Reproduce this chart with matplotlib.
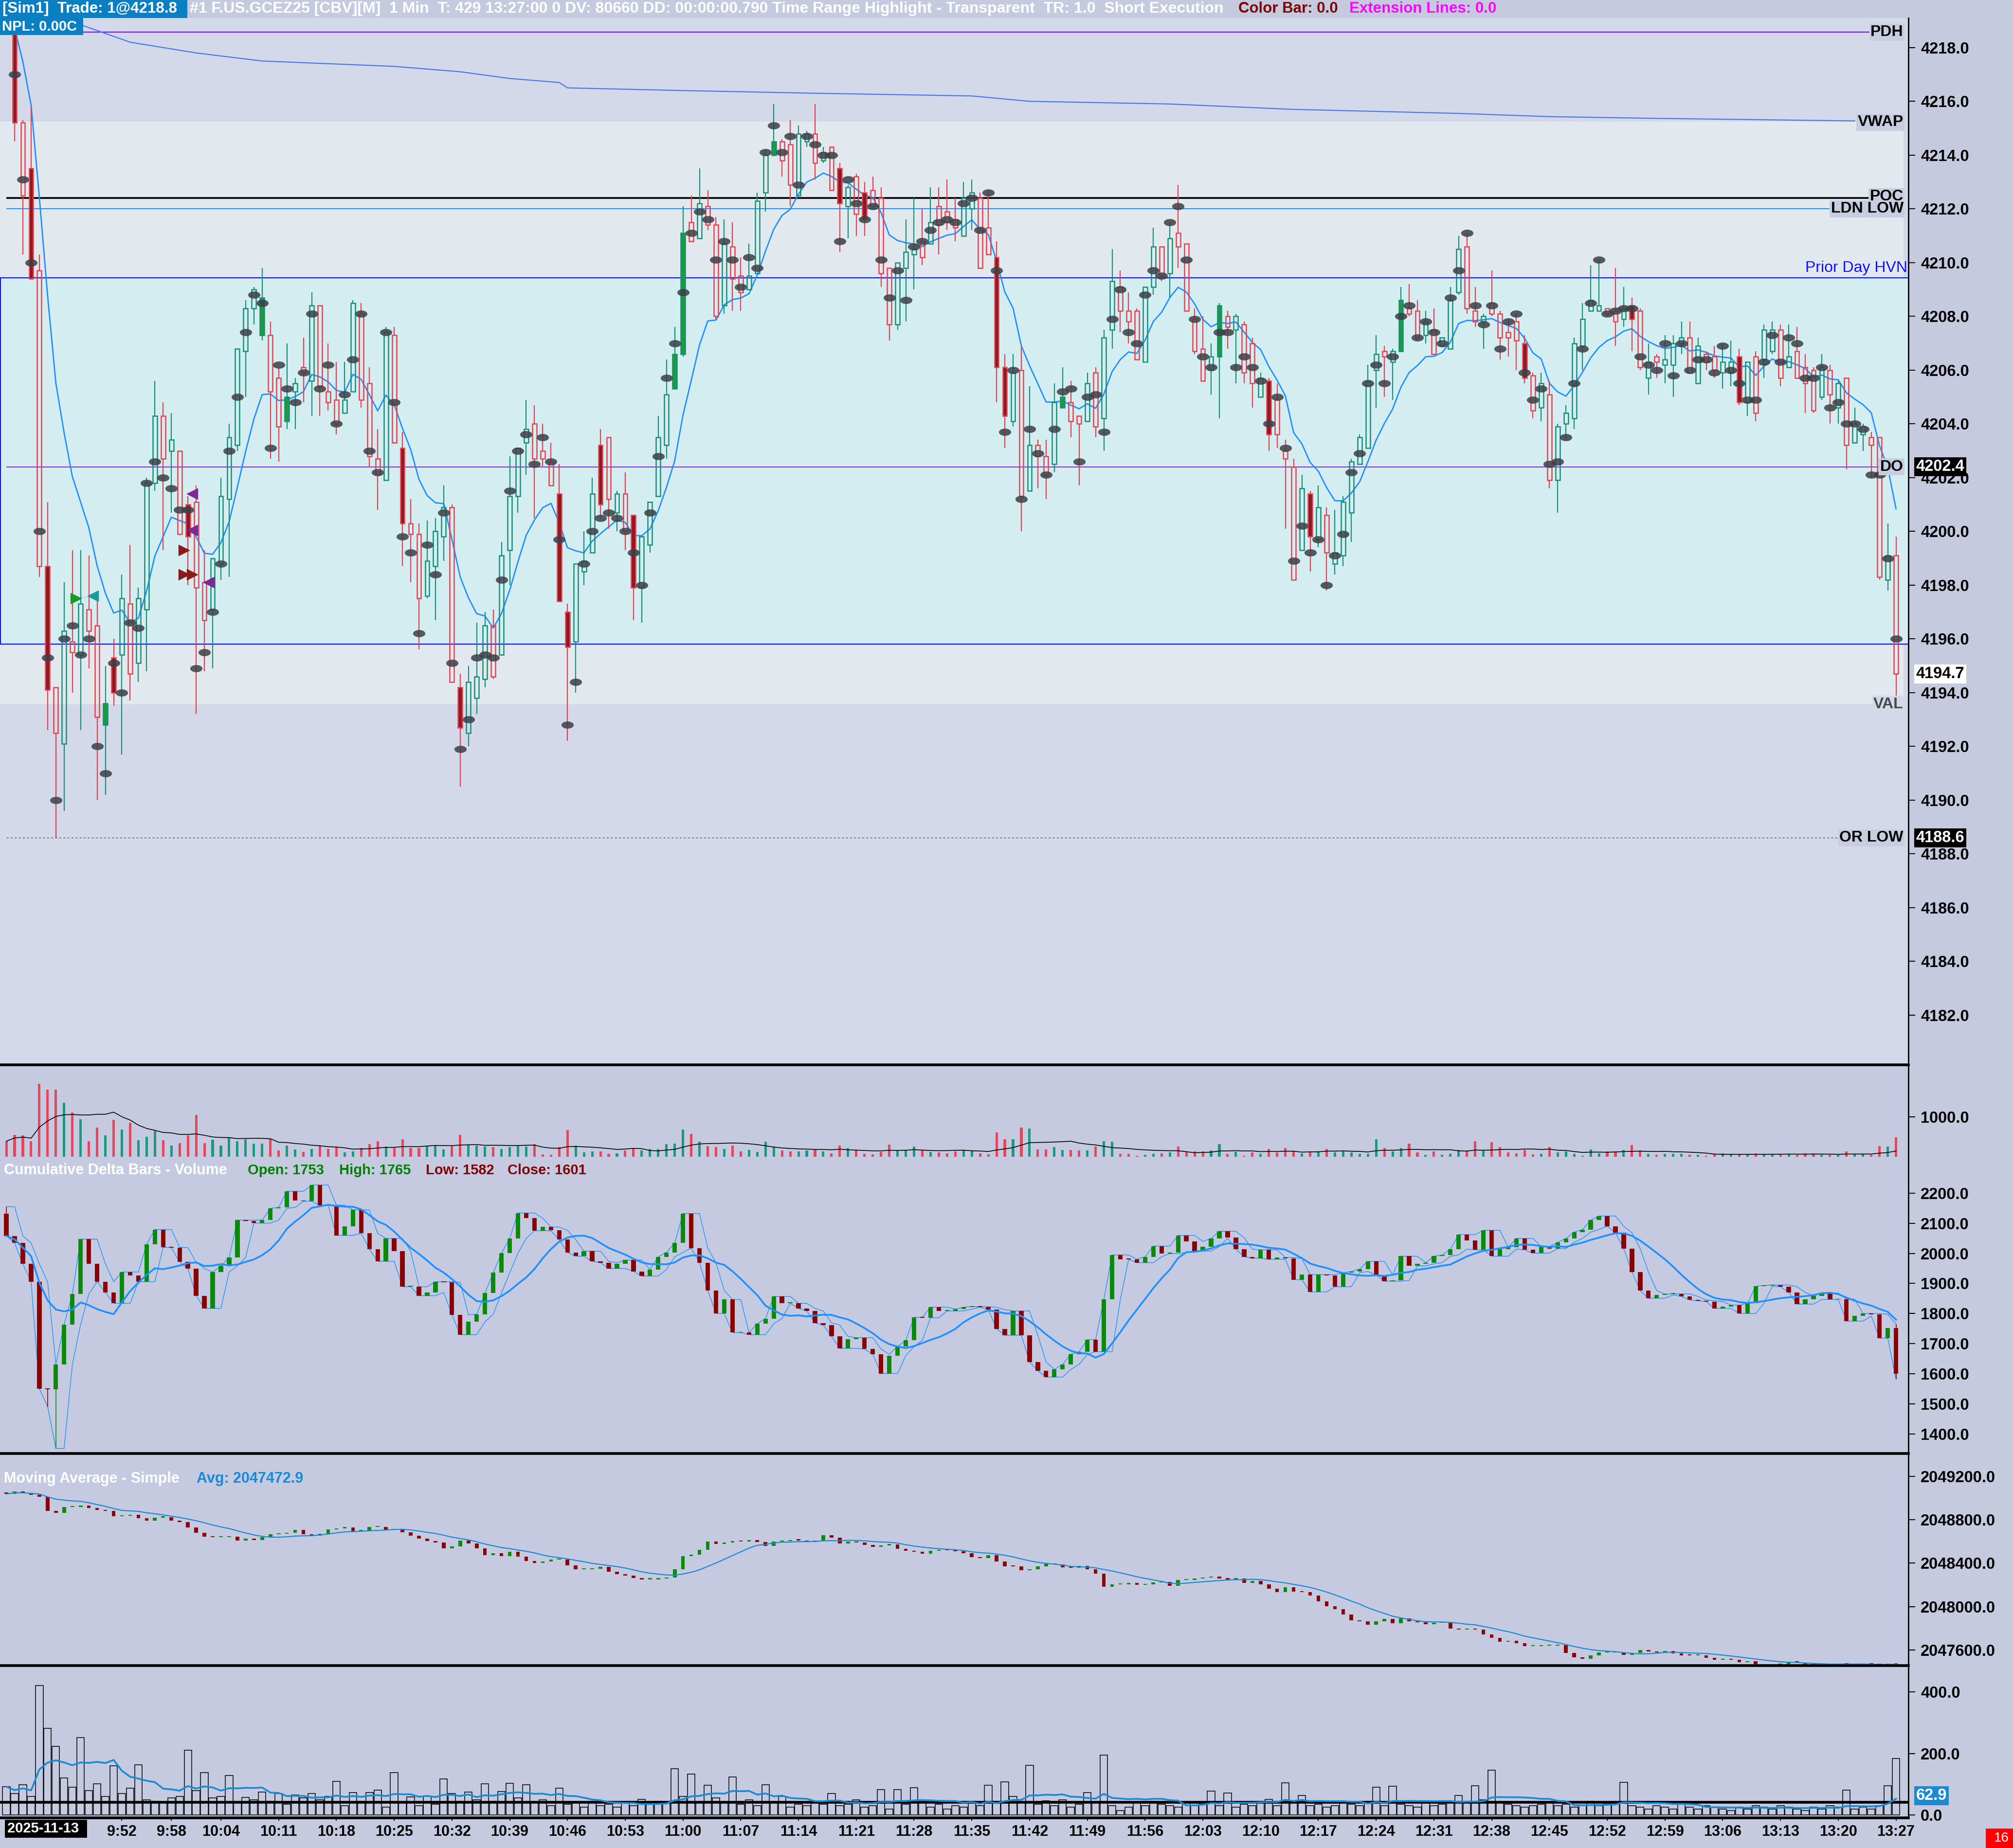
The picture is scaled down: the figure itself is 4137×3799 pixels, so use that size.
import numpy as np
import pandas as pd
import matplotlib
matplotlib.use("Agg")
import matplotlib.pyplot as plt
from matplotlib.patches import Rectangle
from matplotlib.transforms import blended_transform_factory as blend

plt.rcParams['font.family'] = ['Liberation Sans', 'DejaVu Sans']

# ---------------- data (one entry per 1-minute bar, 9:38 .. 13:27) ----------------
opens = [4221.2,
    4218.5, 4215.2, 4213.5, 4209.7, 4198.7, 4194.2, 4192.1, 4195.9, 4195.4, 4197.1,
    4196.5, 4192.8, 4195.3, 4195.4, 4197.3, 4195.1, 4197.1, 4201.8, 4204.3, 4203.0,
    4203.0, 4201.0, 4201.1, 4198.1, 4197.1, 4198.8, 4201.2, 4203.2, 4206.7, 4208.3,
    4207.3, 4207.3, 4205.7, 4204.1, 4205.2, 4206.1, 4205.6, 4208.4, 4205.2, 4204.9,
    4204.4, 4205.2, 4208.1, 4205.5, 4202.7, 4201.9, 4207.3, 4203.1, 4200.3, 4199.9,
    4197.6, 4198.7, 4199.8, 4200.9, 4194.2, 4192.5, 4193.8, 4194.5, 4196.5, 4195.4,
    4199.3, 4201.3, 4203.3, 4204.0, 4203.0, 4202.6, 4201.4, 4197.0, 4195.9, 4198.5,
    4199.2, 4203.2, 4203.5, 4200.7, 4201.4, 4200.6, 4197.9, 4199.5, 4201.3, 4203.2,
    4205.3, 4206.6, 4211.5, 4210.9, 4212.1, 4211.4, 4208.4, 4210.6, 4209.5, 4209.0,
    4209.6, 4212.6, 4214.0, 4214.5, 4214.4, 4212.5, 4214.5, 4214.8, 4213.8, 4214.3,
    4213.5, 4212.1, 4213.2, 4212.6, 4212.7, 4212.4, 4209.8, 4207.7, 4209.8, 4210.3,
    4210.8, 4210.7, 4212.1, 4211.9, 4211.6, 4211.0, 4212.0, 4212.4, 4211.3, 4210.2,
    4206.1, 4204.1, 4206.0, 4201.5, 4203.2, 4202.8, 4202.5, 4204.6, 4204.8, 4204.3,
    4204.1, 4205.9, 4204.2, 4207.5, 4209.1, 4208.2, 4208.2, 4206.3, 4209.1, 4210.6,
    4209.6, 4211.1, 4210.7, 4207.9, 4206.8, 4206.0, 4206.5, 4208.0, 4207.5, 4207.7,
    4207.0, 4205.0, 4205.6, 4204.9, 4203.0, 4202.4, 4199.3, 4201.4, 4199.7, 4200.6,
    4198.8, 4199.1, 4200.7, 4202.5, 4203.1, 4206.0, 4206.7, 4206.3, 4206.7, 4208.3,
    4208.2, 4207.3, 4207.5, 4206.9, 4206.8, 4208.9, 4210.6, 4208.2, 4207.8, 4208.5,
    4208.1, 4207.4, 4207.8, 4207.0, 4205.8, 4204.6, 4205.1, 4201.9, 4204.0, 4204.2,
    4206.9, 4208.2, 4208.2, 4208.3, 4208.2, 4207.9, 4208.4, 4208.2, 4205.7, 4206.5,
    4206.2, 4206.2, 4207.0, 4207.2, 4205.5, 4206.6, 4206.5, 4205.9, 4205.9, 4206.5,
    4204.8, 4206.5, 4206.4, 4206.7, 4207.5, 4206.1, 4206.7, 4206.1, 4206.0, 4205.0,
    4206.0, 4204.6, 4205.7, 4203.3, 4203.6, 4203.5, 4203.5, 4198.2, 4199.1]

highs = [4221.8,
    4219.3, 4215.3, 4215.8, 4210.3, 4201.1, 4194.2, 4198.1, 4199.3, 4199.3, 4199.1,
    4197.5, 4195.0, 4196.0, 4198.4, 4199.5, 4197.9, 4202.0, 4205.6, 4204.8, 4204.4,
    4203.0, 4201.3, 4201.7, 4199.3, 4199.0, 4202.0, 4204.0, 4206.8, 4208.6, 4209.1,
    4209.8, 4207.8, 4206.1, 4207.0, 4205.7, 4207.2, 4208.9, 4208.4, 4207.0, 4206.3,
    4206.3, 4208.6, 4208.5, 4206.1, 4203.8, 4207.6, 4207.6, 4203.7, 4201.2, 4200.3,
    4200.4, 4200.5, 4201.7, 4201.0, 4194.7, 4195.0, 4196.6, 4197.0, 4197.1, 4199.6,
    4202.8, 4203.1, 4204.9, 4204.7, 4204.0, 4203.3, 4202.5, 4197.3, 4198.8, 4200.0,
    4202.0, 4203.8, 4203.5, 4201.5, 4202.2, 4200.6, 4199.8, 4201.1, 4204.3, 4206.4,
    4207.6, 4212.1, 4212.5, 4213.5, 4212.7, 4211.7, 4211.6, 4211.5, 4210.2, 4210.7,
    4212.6, 4214.2, 4215.9, 4214.6, 4215.3, 4215.1, 4214.9, 4215.9, 4214.3, 4214.3,
    4213.7, 4212.9, 4213.3, 4213.0, 4213.2, 4212.8, 4209.8, 4210.0, 4211.6, 4212.4,
    4212.0, 4212.8, 4212.8, 4213.1, 4212.4, 4213.0, 4213.1, 4212.6, 4212.7, 4210.8,
    4206.6, 4206.6, 4206.9, 4205.4, 4203.4, 4203.4, 4205.5, 4206.1, 4205.6, 4204.3,
    4205.9, 4206.1, 4207.5, 4210.5, 4209.7, 4208.9, 4208.3, 4209.1, 4211.3, 4210.6,
    4211.5, 4212.9, 4210.7, 4208.3, 4208.0, 4207.0, 4208.5, 4208.2, 4208.1, 4207.8,
    4207.2, 4205.9, 4205.7, 4205.5, 4203.4, 4202.7, 4202.1, 4201.5, 4201.7, 4200.9,
    4200.8, 4201.3, 4202.7, 4203.6, 4206.2, 4207.3, 4206.9, 4206.8, 4209.1, 4209.2,
    4208.6, 4208.2, 4208.3, 4207.2, 4209.1, 4211.0, 4211.1, 4209.1, 4208.1, 4209.7,
    4208.2, 4207.9, 4208.1, 4207.3, 4205.9, 4205.9, 4205.6, 4204.0, 4204.7, 4207.2,
    4208.5, 4209.9, 4210.1, 4208.3, 4209.8, 4209.1, 4208.7, 4208.3, 4207.0, 4206.6,
    4207.3, 4207.3, 4207.8, 4207.8, 4207.2, 4206.7, 4206.9, 4207.0, 4207.1, 4206.8,
    4206.3, 4206.7, 4207.7, 4207.8, 4207.7, 4207.7, 4207.6, 4206.6, 4206.1, 4206.6,
    4206.2, 4205.6, 4205.7, 4204.6, 4204.0, 4203.7, 4203.5, 4200.3, 4199.8]

lows = [4219.4,
    4214.5, 4210.3, 4209.4, 4198.3, 4192.6, 4188.6, 4189.6, 4194.0, 4192.6, 4194.9,
    4190.0, 4190.2, 4193.5, 4191.7, 4193.7, 4194.4, 4194.8, 4201.5, 4199.3, 4200.7,
    4199.9, 4198.0, 4193.2, 4194.8, 4194.9, 4198.2, 4198.3, 4203.0, 4205.0, 4207.7,
    4207.1, 4202.7, 4202.6, 4203.8, 4203.8, 4204.8, 4204.3, 4204.3, 4204.5, 4203.6,
    4204.4, 4205.2, 4204.6, 4202.4, 4200.8, 4201.9, 4203.3, 4198.7, 4198.1, 4195.6,
    4197.5, 4196.7, 4198.9, 4194.4, 4190.5, 4192.0, 4193.2, 4194.2, 4194.5, 4195.4,
    4198.0, 4200.7, 4202.1, 4200.5, 4202.4, 4201.7, 4197.4, 4192.2, 4194.0, 4198.0,
    4199.2, 4200.5, 4200.1, 4200.0, 4199.3, 4196.7, 4196.6, 4199.2, 4201.3, 4202.7,
    4205.3, 4206.5, 4210.8, 4210.9, 4211.2, 4207.9, 4208.1, 4208.2, 4208.2, 4209.0,
    4209.6, 4211.9, 4214.0, 4213.2, 4212.1, 4212.5, 4214.3, 4213.1, 4213.7, 4212.7,
    4210.4, 4210.9, 4211.0, 4211.0, 4212.0, 4209.1, 4207.1, 4207.5, 4207.8, 4209.0,
    4209.9, 4210.7, 4210.3, 4211.2, 4210.8, 4211.0, 4211.2, 4209.8, 4210.3, 4204.8,
    4203.1, 4203.9, 4200.0, 4201.5, 4201.6, 4201.2, 4202.2, 4204.6, 4203.5, 4201.7,
    4204.1, 4203.5, 4203.0, 4206.8, 4207.4, 4207.0, 4206.4, 4206.3, 4208.8, 4209.3,
    4208.7, 4209.8, 4208.2, 4206.6, 4205.6, 4205.1, 4204.2, 4206.8, 4205.5, 4205.5,
    4204.6, 4205.0, 4203.0, 4203.1, 4200.1, 4198.2, 4199.3, 4198.5, 4199.4, 4197.8,
    4198.4, 4198.7, 4199.6, 4202.5, 4203.1, 4204.6, 4205.0, 4204.9, 4206.7, 4208.0,
    4207.1, 4207.0, 4206.6, 4206.9, 4206.8, 4208.8, 4208.1, 4207.6, 4206.8, 4208.0,
    4206.4, 4206.5, 4206.0, 4205.5, 4204.2, 4204.1, 4201.6, 4200.7, 4203.4, 4203.8,
    4206.0, 4208.2, 4208.2, 4208.0, 4206.9, 4207.6, 4206.7, 4206.0, 4205.1, 4205.7,
    4205.5, 4205.0, 4206.6, 4205.9, 4205.5, 4206.0, 4205.7, 4205.3, 4205.4, 4204.7,
    4204.3, 4204.1, 4205.7, 4206.6, 4205.4, 4206.1, 4205.7, 4204.4, 4204.4, 4204.9,
    4204.0, 4204.0, 4202.3, 4203.3, 4203.0, 4202.0, 4198.2, 4197.8, 4193.7]

closes = [4219.6,
    4215.2, 4212.5, 4209.4, 4198.7, 4194.1, 4192.5, 4196.3, 4195.5, 4197.3, 4196.3,
    4193.1, 4193.6, 4194.0, 4197.5, 4194.7, 4197.5, 4201.8, 4204.3, 4202.7, 4203.4,
    4199.9, 4199.8, 4197.9, 4196.7, 4199.0, 4201.3, 4203.5, 4206.8, 4208.3, 4209.0,
    4208.7, 4205.2, 4203.9, 4205.0, 4205.5, 4205.9, 4208.4, 4205.4, 4204.8, 4204.0,
    4204.9, 4208.5, 4204.9, 4202.8, 4202.1, 4207.4, 4203.3, 4200.3, 4199.9, 4197.5,
    4198.9, 4200.0, 4200.9, 4194.4, 4192.7, 4194.4, 4194.6, 4196.5, 4194.6, 4199.1,
    4201.3, 4203.1, 4203.8, 4202.7, 4202.7, 4201.7, 4197.4, 4195.7, 4198.8, 4198.9,
    4201.4, 4201.0, 4201.2, 4201.4, 4200.0, 4197.9, 4199.8, 4201.1, 4203.5, 4205.1,
    4206.6, 4211.1, 4210.8, 4212.2, 4211.4, 4208.0, 4210.7, 4209.4, 4208.9, 4209.5,
    4212.3, 4214.0, 4214.5, 4213.8, 4212.9, 4214.8, 4214.8, 4213.7, 4214.1, 4212.7,
    4212.2, 4212.8, 4211.8, 4211.6, 4212.1, 4209.6, 4207.7, 4210.0, 4210.4, 4210.5,
    4210.2, 4211.5, 4211.4, 4211.5, 4211.3, 4212.4, 4212.6, 4209.8, 4210.3, 4206.1,
    4204.3, 4205.9, 4201.3, 4203.2, 4202.8, 4202.1, 4204.8, 4205.0, 4204.1, 4204.0,
    4205.5, 4203.9, 4207.2, 4209.3, 4208.2, 4207.8, 4206.4, 4209.1, 4210.6, 4209.5,
    4210.9, 4210.6, 4208.2, 4206.7, 4205.6, 4206.5, 4208.4, 4207.6, 4208.0, 4205.9,
    4205.5, 4205.7, 4203.6, 4203.6, 4202.7, 4198.2, 4201.6, 4199.8, 4200.9, 4199.2,
    4199.2, 4201.1, 4202.6, 4203.5, 4205.6, 4206.6, 4206.5, 4206.7, 4208.6, 4208.1,
    4207.2, 4207.8, 4206.6, 4207.2, 4208.6, 4210.5, 4208.3, 4207.8, 4208.0, 4208.1,
    4207.2, 4207.2, 4207.1, 4205.7, 4204.5, 4205.5, 4201.9, 4203.9, 4204.4, 4207.0,
    4207.9, 4208.6, 4208.4, 4208.1, 4207.8, 4208.3, 4207.9, 4206.1, 4206.3, 4206.3,
    4206.4, 4207.0, 4207.2, 4205.9, 4206.9, 4206.3, 4206.0, 4206.3, 4206.3, 4204.8,
    4206.3, 4204.4, 4207.5, 4207.5, 4205.7, 4206.5, 4205.7, 4205.5, 4204.5, 4206.1,
    4205.1, 4205.5, 4203.2, 4204.0, 4203.9, 4203.2, 4198.3, 4199.1, 4194.7]

# price of the heaviest-volume level in each bar (grey dots)
poc = [4220.5,
    4217.0, 4213.1, 4210.0, 4200.0, 4195.3, 4190.0, 4196.0, 4196.5, 4195.4, 4196.0,
    4192.0, 4191.0, 4195.1, 4194.0, 4196.6, 4196.4, 4201.8, 4202.6, 4202.0, 4201.6,
    4200.8, 4200.8, 4194.9, 4195.5, 4197.0, 4198.8, 4203.0, 4205.0, 4207.4, 4208.8,
    4208.5, 4203.1, 4206.2, 4205.3, 4204.8, 4205.9, 4208.1, 4205.3, 4206.2, 4204.0,
    4205.1, 4206.4, 4208.1, 4203.0, 4202.2, 4207.4, 4204.8, 4199.8, 4199.2, 4196.2,
    4199.5, 4198.4, 4200.7, 4195.1, 4191.9, 4193.0, 4195.3, 4195.4, 4195.3, 4198.2,
    4201.5, 4203.0, 4203.6, 4202.5, 4203.5, 4202.6, 4199.7, 4192.8, 4194.4, 4198.8,
    4200.0, 4200.5, 4200.7, 4200.5, 4200.0, 4199.2, 4198.0, 4200.7, 4202.8, 4205.7,
    4207.0, 4208.9, 4211.1, 4211.9, 4211.6, 4210.1, 4210.8, 4210.1, 4209.1, 4210.2,
    4209.8, 4214.1, 4215.1, 4214.1, 4214.7, 4212.9, 4214.7, 4214.4, 4214.0, 4214.0,
    4210.8, 4213.1, 4212.2, 4211.6, 4212.1, 4210.1, 4208.7, 4209.7, 4208.6, 4210.6,
    4210.8, 4211.2, 4211.5, 4211.6, 4211.5, 4212.2, 4212.4, 4211.2, 4212.6, 4209.7,
    4203.7, 4206.0, 4201.2, 4203.8, 4202.9, 4202.1, 4203.8, 4205.2, 4205.3, 4202.6,
    4205.0, 4205.1, 4203.7, 4207.9, 4209.0, 4207.4, 4207.0, 4208.8, 4209.7, 4209.5,
    4211.5, 4212.1, 4210.1, 4207.9, 4206.5, 4206.1, 4207.4, 4207.4, 4206.1, 4206.5,
    4206.1, 4205.6, 4204.0, 4205.0, 4203.1, 4198.9, 4200.2, 4199.2, 4199.7, 4198.0,
    4199.1, 4199.9, 4202.2, 4202.9, 4205.5, 4206.2, 4205.5, 4206.5, 4208.0, 4208.4,
    4207.2, 4207.8, 4207.4, 4207.0, 4208.7, 4209.7, 4211.1, 4208.4, 4207.7, 4208.4,
    4206.8, 4207.8, 4208.1, 4205.9, 4204.9, 4205.3, 4202.5, 4202.6, 4203.5, 4205.5,
    4206.8, 4208.5, 4210.1, 4208.1, 4208.2, 4208.3, 4208.3, 4206.5, 4206.2, 4206.0,
    4207.0, 4205.8, 4207.0, 4206.0, 4206.4, 4206.4, 4205.9, 4206.9, 4206.0, 4205.5,
    4204.9, 4204.9, 4206.3, 4207.3, 4206.3, 4207.2, 4207.0, 4205.7, 4205.7, 4206.1,
    4204.6, 4204.8, 4204.0, 4204.0, 4203.8, 4202.1, 4202.1, 4199.0, 4196.0]

# bars drawn with a solid body
filled_down = [1, 3, 5, 13, 22, 48, 55, 67, 68, 72, 76, 101, 104, 120, 121, 153, 158, 184, 197, 210]
filled_up = [12, 31, 34, 81, 82, 93, 128, 147, 169]

# VWAP (bar, value)
vwap_bar = [0, 5, 9, 15, 23, 31, 39, 47, 55, 61, 67, 68, 82, 98, 117, 124, 141, 156, 176, 187, 199, 224]
vwap_val = [4219.8, 4219.3, 4218.85, 4218.2, 4217.8, 4217.5, 4217.4, 4217.3, 4217.1, 4216.85, 4216.7,
            4216.5, 4216.4, 4216.3, 4216.2, 4216.0, 4215.9, 4215.7, 4215.55, 4215.43, 4215.37, 4215.27]

# reference levels
pdh, vwap_last, poc_level, ldn_low, hvn = 4218.57, 4215.22, 4212.4, 4212.0, 4209.43
do_level, va_low_line, val_level, or_low = 4202.4, 4195.8, 4193.57, 4188.6
band_top = 4215.25
last_price = 4194.7

# trade markers (bar, price)
buy_entry = [(8.4, 4197.5)]
buy_exit = [(10.5, 4197.6)]
short_entry = [(21.5, 4199.3), (21.5, 4198.4), (22.5, 4198.4)]
short_exit = [(22.5, 4201.4), (22.5, 4200.05), (24.5, 4198.1)]

volume = [392, 551, 538, 392, 1823, 1677, 1677, 1342, 1108, 937,
          392, 728, 538, 918, 684, 855, 411, 506, 646, 411,
          285, 348, 538, 1044, 348, 430, 285, 475, 392, 443,
          329, 329, 456, 158, 285, 190, 127, 203, 266, 203,
          253, 114, 139, 222, 317, 392, 253, 222, 443, 222,
          222, 285, 285, 190, 285, 551, 304, 285, 253, 241,
          203, 241, 285, 253, 317, 63, 51, 241, 665, 285,
          114, 139, 139, 76, 95, 158, 222, 158, 203, 203,
          317, 329, 684, 570, 380, 266, 241, 203, 285, 139,
          177, 127, 380, 253, 158, 139, 139, 158, 190, 139,
          95, 285, 222, 158, 76, 63, 127, 304, 158, 177,
          253, 158, 127, 114, 95, 139, 158, 158, 95, 63,
          614, 443, 443, 728, 709, 190, 190, 241, 177, 177,
          158, 158, 253, 392, 380, 76, 76, 32, 51, 76,
          95, 114, 253, 139, 139, 139, 158, 317, 76, 127,
          32, 114, 76, 203, 114, 222, 139, 95, 139, 139,
          203, 114, 139, 114, 76, 76, 443, 222, 139, 222,
          329, 114, 51, 139, 51, 76, 177, 158, 392, 177,
          367, 241, 114, 95, 177, 63, 76, 241, 114, 139,
          76, 32, 190, 95, 139, 139, 177, 298, 158, 76,
          51, 76, 76, 76, 51, 51, 32, 63, 95, 76,
          51, 63, 95, 76, 76, 51, 63, 51, 95, 95,
          51, 51, 51, 139, 76, 63, 51, 266, 253, 487]

delta_open0 = 2131.6
delta_close = [2058.0, 2034.4, 1965.0, 1905.9, 1550.9, 1548.0, 1631.2, 1763.9, 1865.3, 2047.1,
               1965.1, 1905.9, 1870.4, 1834.0, 1938.0, 1927.0, 1905.9, 2030.2, 2079.2, 2020.0,
               2019.0, 1971.0, 1949.8, 1859.4, 1817.2, 1938.0, 1958.3, 1986.2, 2110.4, 2107.0,
               2100.3, 2110.4, 2149.4, 2152.7, 2206.0, 2174.7, 2173.0, 2227.1, 2159.5, 2160.0,
               2059.7, 2090.2, 2144.3, 2066.5, 2013.0, 1973.5, 2049.6, 2007.3, 1889.0, 1889.0,
               1859.4, 1870.4, 1905.9, 1904.0, 1796.0, 1730.0, 1772.3, 1797.7, 1867.8, 1935.5,
               2000.6, 2049.6, 2134.1, 2117.0, 2075.0, 2087.6, 2076.6, 2045.4, 2003.1, 1990.4,
               2007.3, 1973.5, 1969.0, 1949.8, 1965.1, 1977.7, 1939.7, 1924.5, 1946.5, 1988.7,
               2003.1, 2034.4, 2132.4, 2017.5, 1969.0, 1876.3, 1800.2, 1846.7, 1736.8, 1737.0,
               1730.0, 1766.4, 1783.4, 1856.9, 1834.0, 1834.0, 1817.2, 1808.7, 1769.0, 1762.0,
               1724.1, 1684.4, 1715.7, 1720.0, 1682.0, 1665.0, 1601.0, 1660.7, 1690.3, 1711.5,
               1787.6, 1786.0, 1821.2, 1808.7, 1808.7, 1814.6, 1821.2, 1823.0, 1821.0, 1813.0,
               1749.5, 1728.0, 1808.7, 1728.0, 1639.6, 1610.0, 1589.0, 1614.3, 1631.2, 1665.0,
               1673.4, 1713.2, 1673.4, 1846.7, 1994.7, 1980.3, 1980.0, 1969.0, 1988.7, 2024.2,
               1998.9, 2003.0, 2059.7, 2039.4, 2007.3, 2022.5, 2049.6, 2073.3, 2052.1, 2014.1,
               1988.7, 1983.7, 2011.6, 1980.3, 1986.2, 1983.0, 1912.6, 1929.5, 1872.0, 1929.5,
               1927.0, 1889.0, 1935.5, 1939.7, 1948.0, 1973.5, 1928.7, 1907.6, 1910.0, 1990.4,
               1958.3, 1965.1, 1969.3, 1990.4, 1994.6, 2014.1, 2062.3, 2042.8, 2011.6, 2076.6,
               1990.4, 2014.1, 2020.0, 2049.6, 2011.6, 2000.6, 2022.5, 2015.8, 2037.0, 2049.6,
               2070.7, 2079.2, 2110.4, 2124.0, 2090.2, 2068.2, 2015.8, 1938.0, 1876.3, 1851.0,
               1861.9, 1865.0, 1865.3, 1856.9, 1845.0, 1842.5, 1840.0, 1817.2, 1823.0, 1828.1,
               1800.2, 1834.0, 1890.7, 1893.0, 1895.0, 1889.0, 1870.4, 1831.5, 1846.7, 1859.4,
               1867.8, 1846.7, 1848.0, 1774.9, 1791.8, 1800.2, 1797.7, 1718.3, 1752.0, 1601.0]
delta_wick_low = {5: 1491, 6: 1352, 229: 1582}
delta_wick_high = {0: 2155, 229: 1765}

ma_close = [2049036, 2049060, 2049045, 2049030, 2049010, 2048880, 2048864, 2048916, 2048916, 2048930,
            2048910, 2048890, 2048882, 2048830, 2048835, 2048843, 2048815, 2048790, 2048820, 2048822,
            2048793, 2048778, 2048730, 2048680, 2048643, 2048640, 2048640, 2048643, 2048608, 2048626,
            2048611, 2048640, 2048667, 2048670, 2048678, 2048708, 2048667, 2048655, 2048670, 2048712,
            2048722, 2048730, 2048695, 2048695, 2048732, 2048732, 2048708, 2048707, 2048683, 2048655,
            2048625, 2048603, 2048590, 2048536, 2048553, 2048610, 2048580, 2048536, 2048476, 2048490,
            2048464, 2048506, 2048461, 2048420, 2048402, 2048416, 2048432, 2048432, 2048380, 2048345,
            2048345, 2048350, 2048365, 2048320, 2048300, 2048285, 2048264, 2048252, 2048252, 2048260,
            2048267, 2048342, 2048465, 2048479, 2048524, 2048599, 2048576, 2048588, 2048603, 2048598,
            2048613, 2048595, 2048558, 2048598, 2048603, 2048612, 2048610, 2048598, 2048610, 2048658,
            2048633, 2048580, 2048598, 2048590, 2048566, 2048551, 2048565, 2048573, 2048533, 2048513,
            2048503, 2048488, 2048513, 2048524, 2048518, 2048509, 2048491, 2048458, 2048446, 2048476,
            2048417, 2048372, 2048369, 2048334, 2048345, 2048372, 2048394, 2048387, 2048360, 2048357,
            2048375, 2048342, 2048304, 2048185, 2048204, 2048204, 2048220, 2048200, 2048207, 2048225,
            2048226, 2048193, 2048245, 2048245, 2048260, 2048267, 2048275, 2048260, 2048252, 2048260,
            2048220, 2048238, 2048207, 2048166, 2048133, 2048177, 2048136, 2048133, 2048103, 2048050,
            2048002, 2047976, 2047928, 2047872, 2047864, 2047835, 2047864, 2047886, 2047846, 2047894,
            2047864, 2047857, 2047837, 2047850, 2047857, 2047797, 2047790, 2047793, 2047790, 2047746,
            2047712, 2047677, 2047688, 2047662, 2047637, 2047637, 2047640, 2047640, 2047648, 2047574,
            2047533, 2047521, 2047554, 2047580, 2047584, 2047580, 2047558, 2047574, 2047600, 2047588,
            2047580, 2047592, 2047570, 2047554, 2047550, 2047550, 2047528, 2047510, 2047520, 2047510,
            2047490, 2047500, 2047473, 2047460, 2047472, 2047465, 2047490, 2047487, 2047468, 2047466,
            2047469, 2047468, 2047470, 2047469, 2047468, 2047470, 2047469, 2047468, 2047469, 2047470]

lower_vals = [92, 70, 98, 60, 420, 281, 223, 120, 90, 251,
              80, 102, 60, 160, 70, 87, 163, 50, 45, 40,
              56, 60, 210, 80, 137, 55, 60, 128, 40, 58,
              50, 75, 45, 70, 35, 65, 55, 70, 50, 60,
              110, 30, 73, 45, 73, 81, 25, 137, 40, 59,
              30, 60, 35, 117, 70, 45, 75, 50, 101, 45,
              77, 103, 55, 98, 40, 50, 30, 87, 35, 40,
              25, 45, 30, 35, 25, 40, 30, 51, 35, 45,
              40, 150, 60, 133, 40, 97, 55, 40, 123, 35,
              50, 30, 99, 40, 60, 25, 35, 30, 45, 35,
              70, 30, 35, 49, 25, 30, 82, 20, 82, 35,
              89, 40, 25, 35, 20, 30, 25, 40, 30, 97,
              45, 107, 60, 40, 161, 35, 46, 30, 49, 25,
              35, 73, 40, 194, 30, 15, 25, 40, 30, 45,
              35, 30, 25, 40, 30, 35, 78, 30, 71, 25,
              35, 30, 40, 51, 30, 105, 40, 64, 30, 35,
              25, 30, 40, 35, 30, 45, 91, 30, 94, 35,
              30, 25, 40, 30, 35, 45, 63, 40, 95, 50,
              146, 40, 35, 30, 25, 30, 35, 40, 30, 35,
              25, 30, 45, 30, 35, 40, 106, 30, 25, 20,
              30, 25, 20, 35, 25, 20, 30, 25, 20, 15,
              25, 20, 30, 25, 20, 30, 25, 20, 15, 25,
              20, 30, 25, 81, 20, 25, 20, 30, 95, 184]
lower_ref = 41

time_label_bars = [14, 20, 26, 33, 40, 47, 54, 61, 68, 75, 82, 89, 96, 103, 110, 117, 124,
                   131, 138, 145, 152, 159, 166, 173, 180, 187, 194, 201, 208, 215, 222, 229]
time_labels = ['9:52', '9:58', '10:04', '10:11', '10:18', '10:25', '10:32', '10:39', '10:46',
               '10:53', '11:00', '11:07', '11:14', '11:21', '11:28', '11:35', '11:42', '11:49',
               '11:56', '12:03', '12:10', '12:17', '12:24', '12:31', '12:38', '12:45', '12:52',
               '12:59', '13:06', '13:13', '13:20', '13:27']

# ---------------- layout ----------------
W, H = 4137, 3799
XR = 3922
FIG_BG = '#c5cadf'
PANEL_BG = '#c5cae0'
fig = plt.figure(figsize=(W / 100, H / 100), dpi=100)
fig.patch.set_facecolor(FIG_BG)


def panel(top, bottom, bg):
    a = fig.add_axes([0, 1 - bottom / H, XR / W, (bottom - top) / H])
    a.set_facecolor(bg)
    a.set_xlim(-0.77, 230.5)
    for s in ['left', 'top', 'bottom']:
        a.spines[s].set_visible(False)
    a.spines['right'].set_color('black')
    a.spines['right'].set_linewidth(2)
    a.yaxis.tick_right()
    a.tick_params(axis='y', length=10, width=1.5, pad=8, labelsize=23, colors='black')
    a.set_xticks([])
    return a


def bold_ticks(a, ticks, fmt='%.1f'):
    a.set_yticks(ticks)
    a.set_yticklabels([fmt % t for t in ticks], fontweight='bold', fontsize=23.5)


def fig_box(x0, y0, x1, y1, color, z=20):
    fig.add_artist(Rectangle((x0 / W, 1 - y1 / H), (x1 - x0) / W, (y1 - y0) / H,
                             transform=fig.transFigure, facecolor=color, edgecolor='none', zorder=z))


def fig_text(x, y, s, **kw):
    fig.text(x / W, 1 - y / H, s, va='center', zorder=25, **kw)


x = np.arange(len(closes))
o = np.array(opens); h = np.array(highs); l = np.array(lows); c = np.array(closes)
up = c >= o

# ---------------- price panel ----------------
ax = panel(37, 2189, '#d3d9e8')
ax.set_ylim(4180.15, 4219.1)
bold_ticks(ax, np.arange(4182, 4219, 2))

ax.add_patch(Rectangle((-0.77, val_level), 229.9 + 0.77, band_top - val_level,
                       facecolor='#e2e9ee', edgecolor='none', zorder=0))
ax.add_patch(Rectangle((-0.72, va_low_line), 232, hvn - va_low_line,
                       facecolor='#d4edf1', edgecolor='#1010ff', linewidth=1.5, zorder=0.5))

ax.hlines(pdh, -0.77, 229.9, color='#8000ff', lw=1.6, zorder=2)
ax.hlines(poc_level, 0, 229.9, color='black', lw=2.6, zorder=2)
ax.hlines(ldn_low, 0, 229.9, color='#1e90ff', lw=1.5, zorder=2)
ax.hlines(hvn, -0.77, 230.5, color='#1010ff', lw=1.0, zorder=2)
ax.hlines(va_low_line, -0.77, 230.5, color='#1010ff', lw=1.0, zorder=2)
ax.hlines(do_level, 0, 229.9, color='#8a2be2', lw=1.4, zorder=2)
ax.hlines(or_low, 0, 229.9, color='#555555', lw=1.0, linestyles=(0, (3, 3)), zorder=2)

ax.plot(vwap_bar, vwap_val, color='#4a78e8', lw=1.6, zorder=3)
ema = pd.Series(closes).ewm(span=9, adjust=False).mean()
ax.plot(x, ema, color='#1e90ff', lw=2.0, zorder=3)

RED, TEAL = '#e8404f', '#168f78'
body_lo = np.minimum(o, c)
body_hi = np.maximum(o, c)
body_h = np.maximum(body_hi - body_lo, 0.06)
edge = np.where(up, TEAL, RED)
ax.vlines(x, body_hi, h, colors=edge, lw=1.6, zorder=4)
ax.vlines(x, l, body_lo, colors=edge, lw=1.6, zorder=4)
face = ['none'] * len(x)
for j in filled_down:
    face[j] = '#8b1a22'
for j in filled_up:
    face[j] = '#1f9a3a'
ax.bar(x, body_h, bottom=body_lo, width=0.52, color=face, edgecolor=edge, linewidth=1.8, zorder=4)

t = np.linspace(0, 2 * np.pi, 30)
ellipse = np.column_stack([1.7 * np.cos(t), np.sin(t)])
ax.scatter(x, poc, s=330, marker=ellipse, color='#3b4046', alpha=0.85, linewidths=0, zorder=5)

ax.plot([buy_entry[0][0], buy_exit[0][0]], [buy_entry[0][1], buy_exit[0][1]],
        color='#6a8a8a', lw=1, ls=':', zorder=6)
ax.plot(*zip(*buy_entry), marker='>', ms=16, color='#1a9a2a', ls='none', zorder=6)
ax.plot(*zip(*buy_exit), marker='<', ms=16, color='#1a9a9a', ls='none', zorder=6)
ax.plot(*zip(*short_entry), marker='>', ms=16, color='#8b1a1a', ls='none', zorder=6)
ax.plot(*zip(*short_exit), marker='<', ms=16, color='#7a2a90', ls='none', zorder=6)


def rlabel(y, s, color='black', weight='bold', bg='#c8cde0', va='center', x_right=229.9, z=8):
    bb = dict(boxstyle='square,pad=0.08', fc=bg, ec='none') if bg else None
    ax.text(x_right, y, s, ha='right', va=va, fontsize=23, fontweight=weight,
            color=color, bbox=bb, zorder=z)


rlabel(pdh, 'PDH')
rlabel(vwap_last, 'VWAP')
rlabel(poc_level + 0.05, 'POC', z=8)
rlabel(ldn_low, 'LDN LOW', z=9)
rlabel(hvn + 0.1, 'Prior Day HVN', color='#1010ff', weight='normal', bg=None, va='bottom', x_right=230.4)
rlabel(do_level, 'DO')
rlabel(val_level, 'VAL', color='#4a4a4a', bg='#d3d9e8')
rlabel(or_low, 'OR LOW')


def axis_box(a, y, s, fc, tc):
    a.text(1.004, y, s, transform=blend(a.transAxes, a.transData), ha='left', va='center',
           fontsize=23.5, fontweight='bold', color=tc, clip_on=False, zorder=30,
           bbox=dict(boxstyle='square,pad=0.12', fc=fc, ec='none'))


axis_box(ax, do_level, '%.1f' % do_level, 'black', 'white')
axis_box(ax, last_price, '%.1f' % last_price, 'white', 'black')
axis_box(ax, or_low, '%.1f' % or_low, 'black', 'white')

# ---------------- volume panel ----------------
av = panel(2189, 2381, PANEL_BG)
av.set_ylim(-32, 2291)
bold_ticks(av, [1000])
av.spines['top'].set_visible(True)
av.spines['top'].set_linewidth(4)
av.bar(x, volume, width=0.3, color=np.where(up, '#1a9a7e', '#e8465a'), zorder=3)
av.plot(x, pd.Series(volume).rolling(10, min_periods=1).mean(), color='black', lw=1.2, zorder=4)

# ---------------- cumulative delta panel ----------------
ad = panel(2381, 2988, PANEL_BG)
ad.set_ylim(1335.3, 2315.9)
bold_ticks(ad, np.arange(1400, 2201, 100))
dc = np.array(delta_close)
do_ = np.concatenate([[delta_open0], dc[:-1]])
d_up = dc >= do_
d_top = np.maximum(dc, do_)
d_bot = np.minimum(dc, do_)
d_hi = d_top.copy()
d_lo = d_bot.copy()
for k, v in delta_wick_high.items():
    d_hi[k] = v
for k, v in delta_wick_low.items():
    d_lo[k] = v
dcol = np.where(d_up, '#0a8a0a', '#8b0000')
ad.vlines(x, d_lo, d_hi, colors=dcol, lw=1.2, zorder=3)
ad.bar(x, np.maximum(d_top - d_bot, 3), bottom=d_bot, width=0.55, color=dcol, zorder=4)
ad.plot(x, pd.Series(d_hi).rolling(2, min_periods=1).max(), color='#1e90ff', lw=1.0, zorder=2)
ad.plot(x, pd.Series(d_lo).rolling(2, min_periods=1).min(), color='#1e90ff', lw=1.0, zorder=2)
ad.plot(x, pd.Series(delta_close).rolling(10, min_periods=1).mean(), color='#1e90ff', lw=2.6, zorder=5)

ad.text(0.002, 2275, 'Cumulative Delta Bars - Volume', color='white', fontsize=22, fontweight='bold',
        va='center', transform=blend(ad.transAxes, ad.transData))
for xp, s, col in [(509, 'Open: 1753', '#008000'), (697, 'High: 1765', '#008000'),
                   (875, 'Low: 1582', '#800000'), (1043, 'Close: 1601', '#800000')]:
    ad.text(xp / XR, 2275, s, color=col, fontsize=21, fontweight='bold', va='center',
            transform=blend(ad.transAxes, ad.transData))

# ---------------- moving average panel ----------------
am = panel(2988, 3424, PANEL_BG)
am.set_ylim(2047458, 2049409)
bold_ticks(am, np.arange(2047600, 2049201, 400))
am.spines['top'].set_visible(True)
am.spines['top'].set_linewidth(4)
mc = np.array(ma_close, dtype=float)
mo = np.concatenate([[2049050.0], mc[:-1]])
m_up = mc >= mo
mcol = np.where(m_up, '#0a8a0a', '#8b0000')
am.bar(x, np.maximum(np.abs(mc - mo), 10), bottom=np.minimum(mc, mo), width=0.45, color=mcol, zorder=3)
am.plot(x, pd.Series(ma_close).rolling(10, min_periods=1).mean(), color='#1a8ad4', lw=1.6, zorder=4)
am.text(0.002, 0.88, 'Moving Average - Simple', color='white', fontsize=22, fontweight='bold',
        va='center', transform=am.transAxes)
am.text(404 / XR, 0.88, 'Avg: 2047472.9', color='#1a8ad4', fontsize=22, fontweight='bold',
        va='center', transform=am.transAxes)

# ---------------- lower panel ----------------
al = panel(3424, 3737, PANEL_BG)
al.set_ylim(-8.9, 484.6)
bold_ticks(al, [0, 200, 400])
al.spines['top'].set_visible(True)
al.spines['top'].set_linewidth(4)
al.spines['bottom'].set_visible(True)
al.spines['bottom'].set_linewidth(4)
al.bar(x, lower_vals, width=0.9, facecolor='none', edgecolor='black', linewidth=1.1, zorder=3)
al.axhline(lower_ref, color='black', lw=4, zorder=2)
al.plot(x, pd.Series(lower_vals).rolling(10, min_periods=1).mean(), color='#1a8ad4', lw=2.6, zorder=4)
axis_box(al, 62.9, '62.9', '#1a8ad4', 'white')

al.set_xticks(time_label_bars)
al.set_xticklabels(time_labels, fontsize=22, fontweight='bold')
al.tick_params(axis='x', length=4, width=1.5, pad=6, colors='black')

# ---------------- header / overlays ----------------
fig_box(0, 0, 385, 37, '#0a7fc2')
fig_text(5, 18, '[Sim1]  Trade: 1@4218.8', color='white', fontsize=22.5, fontweight='bold')
fig_text(390, 18, '#1 F.US.GCEZ25 [CBV][M]  1 Min  T: 429 13:27:00 0 DV: 80660 DD: 00:00:00.790 '
         'Time Range Highlight - Transparent  TR: 1.0  Short Execution', color='white',
         fontsize=23, fontweight='bold')
fig_text(2545, 18, 'Color Bar: 0.0', color='#800000', fontsize=22.5, fontweight='bold')
fig_text(2773, 18, 'Extension Lines: 0.0', color='#ff00ff', fontsize=22.5, fontweight='bold')
fig_box(0, 37, 171, 72, '#0a7fc2')
fig_text(4, 55, 'NPL: 0.00C', color='white', fontsize=21, fontweight='bold')

fig_box(10, 3741, 179, 3778, 'black')
fig_text(15, 3759, '2025-11-13', color='white', fontsize=21, fontweight='bold')
fig_box(4081, 3759, 4137, 3799, '#ff0000')
fig_text(4098, 3779, '16', color='white', fontsize=20)

fig.savefig('out.png', dpi=100, facecolor=FIG_BG)
